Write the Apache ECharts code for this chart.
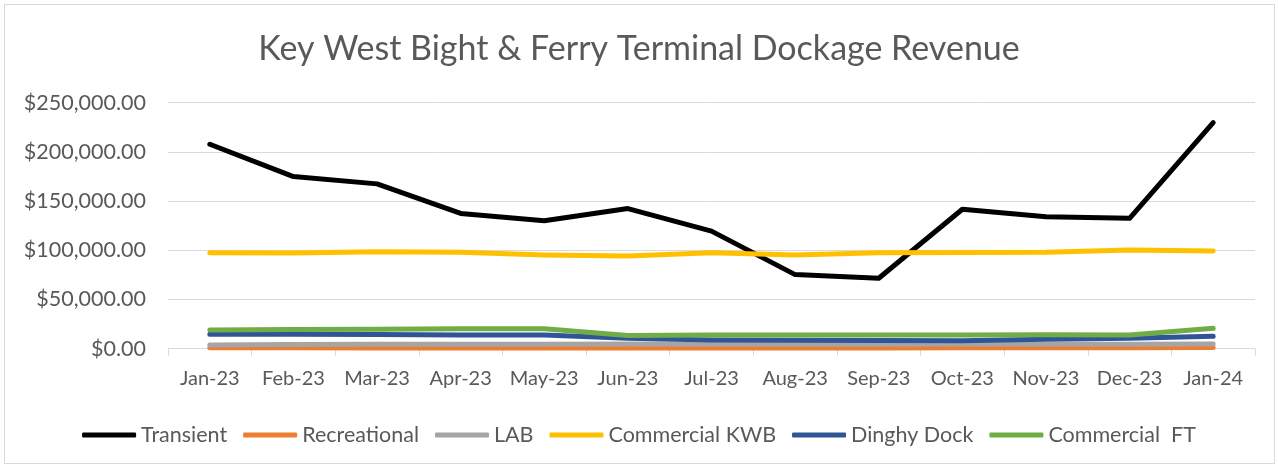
<!DOCTYPE html>
<html>
<head>
<meta charset="utf-8">
<script src="https://cdn.jsdelivr.net/npm/echarts@6/dist/echarts.min.js"></script>
<style>
  html, body { margin: 0; padding: 0; background: #fff; }
  #wrap { position: relative; width: 1278px; height: 467px; }
  #main { width: 1278px; height: 467px; }
  #frame { position: absolute; left: 4px; top: 4px; width: 1269px; height: 458px; border: 1px solid #d9d9d9; pointer-events: none; }
</style>
</head>
<body>
<div id="wrap">
  <div id="main"></div>
  <div id="frame"></div>
</div>
<script>
// 月份
var months = ["Jan-23", "Feb-23", "Mar-23", "Apr-23", "May-23", "Jun-23", "Jul-23",
  "Aug-23", "Sep-23", "Oct-23", "Nov-23", "Dec-23", "Jan-24"];

// 各项收入
var transient = [207800, 174900, 167500, 137500, 130000, 142400, 119500, 75300, 71600, 141700, 134200, 132500, 229800];
var recreational = [1000, 900, 800, 800, 700, 700, 700, 800, 800, 900, 900, 1000, 1200];
var lab = [3800, 4200, 4500, 4500, 4500, 4800, 4600, 4500, 4500, 4800, 4500, 4500, 4800];
var commercialKWB = [97600, 97300, 98600, 98000, 95300, 94200, 97600, 95300, 97600, 97800, 98000, 100300, 99300];
var dinghyDock = [14600, 14600, 14500, 13900, 13900, 10500, 8800, 8700, 8300, 8200, 9500, 10500, 12600];
var commercialFT = [19000, 19500, 19800, 20300, 20300, 13500, 13800, 13900, 13900, 13900, 14200, 14000, 20700];

// y轴刻度
var yMin = 0;
var yMax = 250000;
var yStep = 50000;

var font = "Lato, 'Open Sans', sans-serif";
var gray = "#d9d9d9";
var textColor = "#595959";

function money(v) {
  var s = Math.round(v).toString().replace(/\B(?=(\d{3})+(?!\d))/g, ",");
  return "$" + s + ".00";
}

function line(name, data, color) {
  return {
    name: name,
    type: "line",
    data: data,
    showSymbol: false,
    symbol: "none",
    silent: true,
    lineStyle: { color: color, width: 5, cap: "round", join: "round" },
    itemStyle: { color: color }
  };
}

var myChart = echarts.init(document.getElementById("main"));

myChart.setOption({
  animation: false,
  backgroundColor: "#fff",
  title: {
    text: "Key West Bight & Ferry Terminal Dockage Revenue",
    left: "center",
    top: 27,
    textStyle: { fontFamily: font, fontSize: 34, fontWeight: "normal", color: textColor }
  },
  grid: {
    left: 168,
    right: 23,
    top: 102.7,
    bottom: 118.3
  },
  legend: {
    top: 419,
    left: "center",
    icon: "roundRect",
    itemWidth: 54,
    itemHeight: 5,
    itemGap: 16,
    textStyle: { fontFamily: font, fontSize: 21.5, color: textColor },
    data: ["Transient", "Recreational", "LAB", "Commercial KWB", "Dinghy Dock", "Commercial  FT"]
  },
  xAxis: {
    type: "category",
    boundaryGap: true,
    data: months,
    axisLine: { lineStyle: { color: gray, width: 1 } },
    axisTick: { show: true, length: 7, lineStyle: { color: gray } },
    axisLabel: { interval: 0, fontFamily: font, fontSize: 20, color: textColor, margin: 20 }
  },
  yAxis: {
    type: "value",
    min: yMin,
    max: yMax,
    interval: yStep,
    axisLine: { show: false },
    axisTick: { show: false },
    splitLine: { lineStyle: { color: gray, width: 1 } },
    axisLabel: { fontFamily: font, fontSize: 21.5, color: textColor, margin: 22, formatter: money }
  },
  series: [
    line("Transient", transient, "#000000"),
    line("Recreational", recreational, "#ED7D31"),
    line("LAB", lab, "#A5A5A5"),
    line("Commercial KWB", commercialKWB, "#FFC000"),
    line("Dinghy Dock", dinghyDock, "#2F5597"),
    line("Commercial  FT", commercialFT, "#70AD47")
  ]
});
</script>
</body>
</html>
